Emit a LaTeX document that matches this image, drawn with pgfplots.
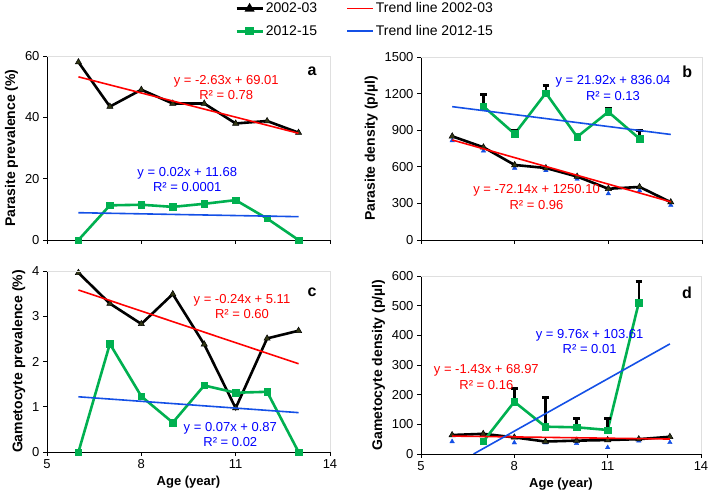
\documentclass[border=0pt]{standalone}
\usepackage{fontspec}
\setmainfont{Liberation Sans}
\usepackage{pgfplots}
\pgfplotsset{compat=1.18}
\definecolor{grn}{RGB}{0,176,80}
\definecolor{tblue}{RGB}{20,80,230}
\definecolor{tred}{RGB}{255,0,0}
\definecolor{eqblue}{RGB}{0,0,255}
\definecolor{triol}{RGB}{50,55,20}
\tikzset{
  eq/.style={font=\fontsize{13}{15}\selectfont, anchor=center},
  pl/.style={font=\fontsize{16}{18}\selectfont\bfseries, anchor=center},
}
\pgfplotsset{
  panel/.style={scale only axis, xmin=5, xmax=14, xtick={5,8,11,14},
    axis x line*=bottom, axis y line*=left, tick align=outside,
    major tick length=4pt, tick style={black, line width=0.8pt},
    axis line style={black, line width=0.8pt},
    ticklabel style={font=\fontsize{13}{15}\selectfont},
    /pgf/number format/assume math mode=true,
    /pgf/number format/1000 sep={},
    ylabel style={font=\fontsize{14}{16}\selectfont\bfseries},
    xlabel style={font=\fontsize{13}{15}\selectfont\bfseries},
    clip mode=individual,
    after end axis/.code={\draw[gray!25, line width=0.8pt] (rel axis cs:0,1) -- (rel axis cs:1,1) -- (rel axis cs:1,0);}},
  blk/.style={black, line width=2.6pt, mark=triangle*, mark size=3.6pt, mark options={fill=triol, draw=black, line width=0.5pt}},
  grs/.style={grn, line width=2.6pt, mark=square*, mark size=3.2pt, mark options={fill=grn, draw=grn, line width=0.5pt}},
  trr/.style={tred, line width=1.6pt, no marks},
  trb/.style={tblue, line width=1.6pt, no marks},
  blm/.style={only marks, mark=triangle*, mark size=2.6pt, mark options={fill=tblue, draw=tblue}},
  errb/.style={error bars/.cd, y dir=plus, y explicit, error bar style={black, line width=2.4pt}, error mark=-, error mark options={rotate=90, black, line width=3pt, mark size=3.2pt}},
}
\begin{document}
\begin{tikzpicture}[x=1pt,y=1pt]
\useasboundingbox (0,0) rectangle (710,495);
% ---------- panel a
\begin{axis}[panel, at={(47pt,255pt)}, anchor=south west, width=283pt, height=184pt,
  ymin=0, ymax=60, ytick={0,20,40,60}, xticklabels={}, ylabel={Parasite prevalence (\%)},
  legend style={at={(axis description cs:1.124,1.196)}, anchor=center, draw=none, fill=none,
    font=\fontsize{14}{16}\selectfont, legend columns=2, row sep=7pt,
    /tikz/every even column/.append style={column sep=27pt}},
  legend image code/.code={\draw[mark repeat=2,mark phase=2,#1] plot coordinates {(0pt,0pt) (13pt,0pt) (26pt,0pt)};},
  legend cell align=left]
\addlegendimage{black, line width=2.6pt, mark=triangle*, mark size=3.2pt}
\addlegendentry{2002-03}
\addlegendimage{tred, line width=1.6pt}
\addlegendentry{Trend line 2002-03}
\addlegendimage{grn, line width=2.6pt, mark=square*, mark size=2.8pt}
\addlegendentry{2012-15}
\addlegendimage{tblue, line width=1.6pt}
\addlegendentry{Trend line 2012-15}
\addplot[blk] coordinates {(6,58)(7,43.5)(8,49)(9,44.5)(10,44.5)(11,38)(12,38.8)(13,35)};
\addplot[grs] coordinates {(6,0)(7,11.3)(8,11.5)(9,10.8)(10,11.8)(11,13)(12,7)(13,0)};
\addplot[trr] coordinates {(6,53.2)(13,34.8)};
\addplot[trb] coordinates {(6,8.9)(13,7.6)};
\node[eq, text=tred] at (axis cs:10.7,51.6) {y = -2.63x + 69.01};
\node[eq, text=tred] at (axis cs:10.7,47.3) {R² = 0.78};
\node[eq, text=eqblue] at (axis cs:9.46,21.7) {y = 0.02x + 11.68};
\node[eq, text=eqblue] at (axis cs:9.46,17.4) {R² = 0.0001};
\node[pl] at (axis cs:13.43,54.9) {a};
\end{axis}
% ---------- panel b
\begin{axis}[panel, at={(421pt,255pt)}, anchor=south west, width=281pt, height=183pt,
  ymin=0, ymax=1500, ytick={0,300,600,900,1200,1500}, xticklabels={}, ylabel={Parasite density (p/µl)}]
\addplot[blm] coordinates {(6,815)(7,730)(8,590)(9,570)(10,500)(11,380)(12,405)(13,285)};
\addplot[blk] coordinates {(6,850)(7,760)(8,615)(9,590)(10,520)(11,420)(12,435)(13,310)};
\addplot[grs, errb] coordinates {(7,1095) +- (0,95) (8,870) +- (0,25) (9,1205) +- (0,60) (10,845) +- (0,20) (11,1050) +- (0,30) (12,830) +- (0,70)};
\addplot[trr] coordinates {(6,820)(13,313)};
\addplot[trb] coordinates {(6,1093)(13,865)};
\node[eq, text=eqblue] at (axis cs:11.15,1300) {y = 21.92x + 836.04};
\node[eq, text=eqblue] at (axis cs:11.15,1183) {R² = 0.13};
\node[eq, text=tred] at (axis cs:8.7,410) {y = -72.14x + 1250.10};
\node[eq, text=tred] at (axis cs:8.7,287) {R² = 0.96};
\node[pl] at (axis cs:13.53,1379) {b};
\end{axis}
% ---------- panel c
\begin{axis}[panel, at={(47pt,43pt)}, anchor=south west, width=283pt, height=181pt,
  ymin=0, ymax=4, ytick={0,1,2,3,4}, ylabel={Gametocyte prevalence (\%)}, xlabel={Age (year)}]
\addplot[blk] coordinates {(6,3.96)(7,3.28)(8,2.83)(9,3.49)(10,2.38)(11,0.97)(12,2.51)(13,2.68)};
\addplot[grs] coordinates {(6,0)(7,2.39)(8,1.23)(9,0.65)(10,1.47)(11,1.31)(12,1.33)(13,0)};
\addplot[trr] coordinates {(6,3.58)(13,1.95)};
\addplot[trb] coordinates {(6,1.22)(13,0.87)};
\node[eq, text=tred] at (axis cs:11.2,3.35) {y = -0.24x + 5.11};
\node[eq, text=tred] at (axis cs:11.2,3.05) {R² = 0.60};
\node[eq, text=eqblue] at (axis cs:10.83,0.53) {y = 0.07x + 0.87};
\node[eq, text=eqblue] at (axis cs:10.83,0.21) {R² = 0.02};
\node[pl] at (axis cs:13.43,3.52) {c};
\end{axis}
% ---------- panel d
\begin{axis}[panel, at={(421pt,41pt)}, anchor=south west, width=280pt, height=178pt,
  ymin=0, ymax=600, ytick={0,100,...,600}, ylabel={Gametocyte density (p/µl)}, xlabel={Age (year)}]
\addplot[blm] coordinates {(6,42)(8,38)(9,38)(10,36)(11,22)(12,44)(13,39)};
\addplot[blk] coordinates {(6,64)(7,68)(8,56)(9,42)(10,45)(11,47)(12,50)(13,58)};
\addplot[grs, errb] coordinates {(7,42) +- (0,0) (8,176) +- (0,45) (9,92) +- (0,98) (10,90) +- (0,30) (11,81) +- (0,39) (12,510) +- (0,73)};
\addplot[trr] coordinates {(6,60.4)(13,50.4)};
\addplot[trb] coordinates {(6.69,0)(13,371)};
\node[eq, text=eqblue] at (axis cs:10.42,401) {y = 9.76x + 103.61};
\node[eq, text=eqblue] at (axis cs:10.42,354) {R² = 0.01};
\node[eq, text=tred] at (axis cs:7.1,283) {y = -1.43x + 68.97};
\node[eq, text=tred] at (axis cs:7.1,233) {R² = 0.16};
\node[pl] at (axis cs:13.55,544) {d};
\end{axis}
\end{tikzpicture}
\end{document}
